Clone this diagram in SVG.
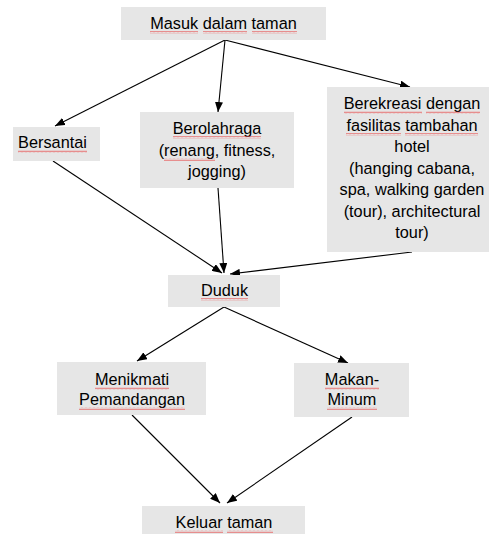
<svg xmlns="http://www.w3.org/2000/svg" width="494" height="534" viewBox="0 0 494 534">
<style>
.box{fill:#e6e6e6}
text{font-family:"Liberation Sans",Arial,sans-serif;font-size:16.3px;fill:#000;text-anchor:middle}
.sq{fill:url(#squig)}
.edge{stroke:#000;stroke-width:1.1;fill:none;marker-end:url(#ah)}
</style>
<defs>
<pattern id="squig" x="0" y="0" width="4" height="3" patternUnits="userSpaceOnUse">
<polyline points="0,2.3 1,0.7 2,2.3 3,0.7 4,2.3" fill="none" stroke="#e85050" stroke-width="0.6"/>
</pattern>
<marker id="ah" markerWidth="10" markerHeight="8" refX="10" refY="4" orient="auto" markerUnits="userSpaceOnUse">
<path d="M0,0 L10,4 L0,8 Z" fill="#000"/>
</marker>
</defs>
<rect width="494" height="534" fill="#fff"/>

<g id="connectors">
<line class="edge" x1="225" y1="40" x2="55" y2="126"/>
<line class="edge" x1="225" y1="40" x2="218" y2="112"/>
<line class="edge" x1="225" y1="40" x2="410" y2="87"/>
<line class="edge" x1="53" y1="161" x2="222" y2="273"/>
<line class="edge" x1="218" y1="188" x2="224" y2="273"/>
<line class="edge" x1="412" y1="252" x2="230" y2="274"/>
<line class="edge" x1="224" y1="307" x2="137" y2="361"/>
<line class="edge" x1="224" y1="307" x2="348" y2="363"/>
<line class="edge" x1="132" y1="415" x2="220" y2="503"/>
<line class="edge" x1="352" y1="417" x2="227" y2="503"/>
</g>

<g id="masuk">
<rect class="box" x="121" y="7" width="205" height="33"/>
<text x="223.5" y="29">Masuk dalam taman</text>
<rect class="sq" x="150" y="31" width="48" height="3"/>
<rect class="sq" x="203" y="31" width="44" height="3"/>
<rect class="sq" x="252" y="31" width="45" height="3"/>
</g>

<g id="bersantai">
<rect class="box" x="13" y="127" width="87" height="34"/>
<text x="52.5" y="148">Bersantai</text>
<rect class="sq" x="18" y="150" width="69" height="3"/>
</g>

<g id="berolahraga">
<rect class="box" x="140" y="112" width="154" height="76"/>
<text x="217" y="134">Berolahraga</text>
<text x="217" y="156">(renang, fitness,</text>
<text x="217" y="177">jogging)</text>
<rect class="sq" x="173" y="136" width="88" height="3"/>
<rect class="sq" x="164" y="158" width="51" height="3"/>
</g>

<g id="berekreasi">
<rect class="box" x="327" y="87" width="162" height="165"/>
<text x="412" y="109">Berekreasi dengan</text>
<text x="412" y="131">fasilitas tambahan</text>
<text x="412" y="152">hotel</text>
<text x="412" y="174">(hanging cabana,</text>
<text x="412" y="195">spa, walking garden</text>
<text x="412" y="217">(tour), architectural</text>
<text x="412" y="238">tour)</text>
<rect class="sq" x="344" y="111" width="78" height="3"/>
<rect class="sq" x="426" y="111" width="54" height="3"/>
<rect class="sq" x="346" y="133" width="55" height="3"/>
<rect class="sq" x="405" y="133" width="73" height="3"/>
</g>

<g id="duduk">
<rect class="box" x="168" y="275" width="112" height="32"/>
<text x="224.5" y="296">Duduk</text>
<rect class="sq" x="201" y="298" width="47" height="3"/>
</g>

<g id="menikmati">
<rect class="box" x="57" y="362" width="149" height="53"/>
<text x="132" y="385">Menikmati</text>
<text x="132" y="405">Pemandangan</text>
<rect class="sq" x="95" y="387" width="74" height="3"/>
<rect class="sq" x="79" y="407" width="106" height="3"/>
</g>

<g id="makan">
<rect class="box" x="294" y="363" width="115" height="54"/>
<text x="352" y="385">Makan-</text>
<text x="352" y="405">Minum</text>
<rect class="sq" x="325" y="387" width="54" height="3"/>
<rect class="sq" x="327" y="407" width="50" height="3"/>
</g>

<g id="keluar">
<rect class="box" x="142" y="506" width="163" height="30"/>
<text x="224" y="528">Keluar taman</text>
<rect class="sq" x="175" y="530" width="48" height="3"/>
<rect class="sq" x="227" y="530" width="46" height="3"/>
</g>
</svg>
